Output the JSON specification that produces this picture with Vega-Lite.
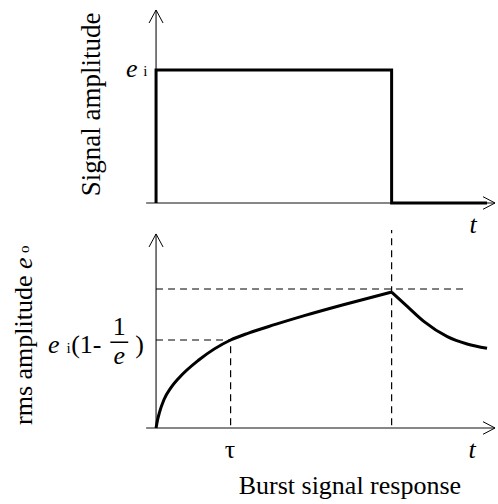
{
  "$schema": "https://vega.github.io/schema/vega-lite/v6.json",
  "width": 498,
  "height": 504,
  "autosize": {"type": "fit", "contains": "padding"},
  "padding": 0,
  "background": "white",
  "config": {"view": {"stroke": null}},
  "encoding": {
    "x": {"field": "t", "type": "quantitative", "scale": {"domain": [-2.0933, 4.5467], "nice": false, "zero": false}, "axis": null}
  },
  "layer": [
    {
      "description": "Upper panel: rectangular input burst of height e_i",
      "encoding": {
        "y": {"field": "v", "type": "quantitative", "scale": {"domain": [-2.2632, 1.5263], "nice": false, "zero": false}, "axis": null}
      },
      "layer": [
        {
          "data": {"values": [
            {"t": -0.133, "t2": 4.547, "v": 0, "v2": 0},
            {"t": 0, "t2": 0, "v": 0, "v2": 1.451}
          ]},
          "mark": {"type": "rule", "color": "#111", "strokeWidth": 1.1},
          "encoding": {"x2": {"field": "t2"}, "y2": {"field": "v2"}}
        },
        {
          "data": {"values": [
            {"i": 0, "t": 0, "v": 0},
            {"i": 1, "t": 0, "v": 1},
            {"i": 2, "t": 3.16, "v": 1},
            {"i": 3, "t": 3.16, "v": 0},
            {"i": 4, "t": 4.44, "v": 0}
          ]},
          "mark": {"type": "line", "color": "black", "strokeWidth": 3, "strokeJoin": "miter"},
          "encoding": {"order": {"field": "i", "type": "quantitative"}}
        },
        {
          "data": {"values": [{"t": 0, "v": 1.451}]},
          "mark": {"type": "point", "shape": "M-1,1.857L0,0L1,1.857", "size": 196, "filled": false, "color": "black", "strokeWidth": 1, "opacity": 1}
        },
        {
          "data": {"values": [{"t": 4.547, "v": 0}]},
          "mark": {"type": "point", "shape": "M-1.714,-0.9L0,0L-1.714,0.9", "size": 196, "filled": false, "color": "black", "strokeWidth": 1, "opacity": 1}
        },
        {
          "data": {"values": [{"t": -0.747, "v": 0.741, "s": "Signal amplitude"}]},
          "mark": {"type": "text", "font": "Liberation Serif", "fontSize": 27, "angle": 270, "align": "center", "baseline": "alphabetic", "color": "black"},
          "encoding": {"text": {"field": "s"}}
        },
        {
          "data": {"values": [
            {"t": -0.327, "v": 0.947, "s": "e"},
            {"t": 4.253, "v": -0.2256, "s": "t"}
          ]},
          "mark": {"type": "text", "font": "Liberation Serif", "fontSize": 26, "fontStyle": "italic", "align": "center", "baseline": "alphabetic", "color": "black"},
          "encoding": {"text": {"field": "s"}}
        },
        {
          "data": {"values": [{"t": -0.143, "v": 0.955, "s": "i"}]},
          "mark": {"type": "text", "font": "Liberation Serif", "fontSize": 15, "align": "center", "baseline": "alphabetic", "color": "black"},
          "encoding": {"text": {"field": "s"}}
        }
      ]
    },
    {
      "description": "Lower panel: rms detector output rising toward e_i and decaying after the burst",
      "encoding": {
        "y": {"field": "v", "type": "quantitative", "scale": {"domain": [-0.5468, 3.0791], "nice": false, "zero": false}, "axis": null}
      },
      "layer": [
        {
          "data": {"values": [
            {"t": -0.133, "t2": 4.547, "v": 0, "v2": 0},
            {"t": 0, "t2": 0, "v": 0, "v2": 1.396}
          ]},
          "mark": {"type": "rule", "color": "#111", "strokeWidth": 1.1},
          "encoding": {"x2": {"field": "t2"}, "y2": {"field": "v2"}}
        },
        {
          "data": {"values": [
            {"t": 0, "t2": 4.147, "v": 1.0, "v2": 1.0},
            {"t": 0, "t2": 1.0, "v": 0.633, "v2": 0.633},
            {"t": 1.0, "t2": 1.0, "v": 0.02, "v2": 0.633},
            {"t": 3.16, "t2": 3.16, "v": 0.02, "v2": 1.424}
          ]},
          "mark": {"type": "rule", "color": "black", "strokeWidth": 1.2, "strokeDash": [7, 5]},
          "encoding": {"x2": {"field": "t2"}, "y2": {"field": "v2"}}
        },
        {
          "data": {"values": [
            {"seg": "rise", "t": 0, "v": 0},
            {"seg": "rise", "t": 0.02, "v": 0.058},
            {"seg": "rise", "t": 0.045, "v": 0.11},
            {"seg": "rise", "t": 0.107, "v": 0.205},
            {"seg": "rise", "t": 0.2, "v": 0.29},
            {"seg": "rise", "t": 0.307, "v": 0.36},
            {"seg": "rise", "t": 0.573, "v": 0.489},
            {"seg": "rise", "t": 1.0, "v": 0.633},
            {"seg": "rise", "t": 1.24, "v": 0.683},
            {"seg": "rise", "t": 1.6, "v": 0.745},
            {"seg": "rise", "t": 2.0, "v": 0.81},
            {"seg": "rise", "t": 2.5, "v": 0.885},
            {"seg": "rise", "t": 3.16, "v": 0.978},
            {"seg": "decay", "t": 3.16, "v": 0.978},
            {"seg": "decay", "t": 3.373, "v": 0.873},
            {"seg": "decay", "t": 3.596, "v": 0.765},
            {"seg": "decay", "t": 3.907, "v": 0.657},
            {"seg": "decay", "t": 4.173, "v": 0.604},
            {"seg": "decay", "t": 4.44, "v": 0.573}
          ]},
          "mark": {"type": "line", "color": "black", "strokeWidth": 3, "interpolate": "monotone"},
          "encoding": {"detail": {"field": "seg"}}
        },
        {
          "data": {"values": [{"t": 0, "v": 1.396}]},
          "mark": {"type": "point", "shape": "M-1,1.857L0,0L1,1.857", "size": 196, "filled": false, "color": "black", "strokeWidth": 1, "opacity": 1}
        },
        {
          "data": {"values": [{"t": 4.547, "v": 0}]},
          "mark": {"type": "point", "shape": "M-1.714,-0.9L0,0L-1.714,0.9", "size": 196, "filled": false, "color": "black", "strokeWidth": 1, "opacity": 1}
        },
        {
          "data": {"values": [{"t": -1.667, "v": 0.0216, "s": "rms amplitude"}]},
          "mark": {"type": "text", "font": "Liberation Serif", "fontSize": 26, "angle": 270, "align": "left", "baseline": "alphabetic", "color": "black"},
          "encoding": {"text": {"field": "s"}}
        },
        {
          "data": {"values": [{"t": -1.667, "v": 1.144, "s": "e"}]},
          "mark": {"type": "text", "font": "Liberation Serif", "fontSize": 26, "fontStyle": "italic", "angle": 270, "align": "left", "baseline": "alphabetic", "color": "black"},
          "encoding": {"text": {"field": "s"}}
        },
        {
          "data": {"values": [{"t": -1.70, "v": 1.259, "s": "o"}]},
          "mark": {"type": "text", "font": "Liberation Serif", "fontSize": 15, "angle": 270, "align": "left", "baseline": "alphabetic", "color": "black"},
          "encoding": {"text": {"field": "s"}}
        },
        {
          "data": {"values": [
            {"t": -1.373, "v": 0.54, "s": "e"},
            {"t": -0.493, "v": 0.46, "s": "e"},
            {"t": 4.24, "v": -0.216, "s": "t"}
          ]},
          "mark": {"type": "text", "font": "Liberation Serif", "fontSize": 26, "fontStyle": "italic", "align": "center", "baseline": "alphabetic", "color": "black"},
          "encoding": {"text": {"field": "s"}}
        },
        {
          "data": {"values": [
            {"t": -0.493, "v": 0.666, "s": "1"},
            {"t": 0.99, "v": -0.216, "s": "τ"},
            {"t": 2.6, "v": -0.475, "s": "Burst signal response"}
          ]},
          "mark": {"type": "text", "font": "Liberation Serif", "fontSize": 26, "align": "center", "baseline": "alphabetic", "color": "black"},
          "encoding": {"text": {"field": "s"}}
        },
        {
          "data": {"values": [
            {"t": -1.138, "v": 0.54, "s": "(1-"},
            {"t": -0.28, "v": 0.54, "s": ")"}
          ]},
          "mark": {"type": "text", "font": "Liberation Serif", "fontSize": 26, "align": "left", "baseline": "alphabetic", "color": "black"},
          "encoding": {"text": {"field": "s"}}
        },
        {
          "data": {"values": [{"t": -1.173, "v": 0.54, "s": "i"}]},
          "mark": {"type": "text", "font": "Liberation Serif", "fontSize": 15, "align": "center", "baseline": "alphabetic", "color": "black"},
          "encoding": {"text": {"field": "s"}}
        },
        {
          "data": {"values": [{"t": -0.613, "t2": -0.373, "v": 0.617, "v2": 0.617}]},
          "mark": {"type": "rule", "color": "black", "strokeWidth": 1.5},
          "encoding": {"x2": {"field": "t2"}, "y2": {"field": "v2"}}
        }
      ]
    }
  ],
  "resolve": {"scale": {"y": "independent"}}
}
